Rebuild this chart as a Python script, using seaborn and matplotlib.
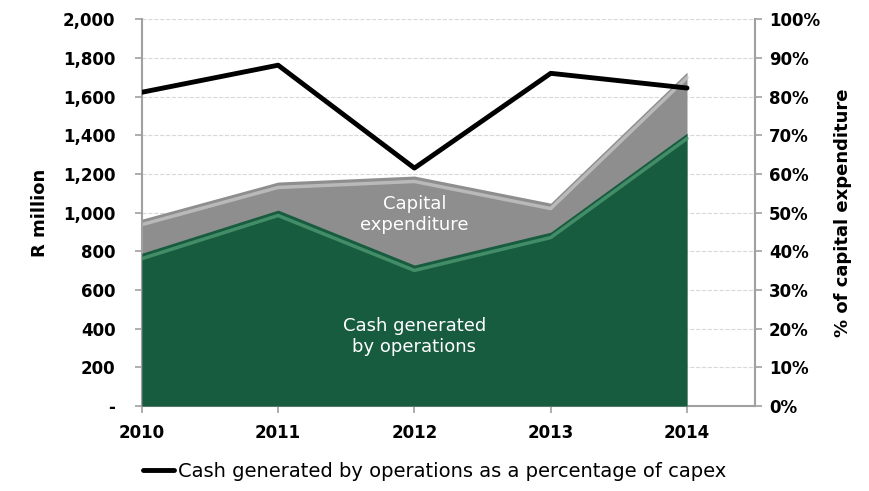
import matplotlib
matplotlib.use("Agg")
import matplotlib.pyplot as plt
import seaborn as sns
import pandas as pd
from matplotlib.ticker import FuncFormatter

years = ["2010", "2011", "2012", "2013", "2014"]
cash_ops = [790, 1013, 729, 899, 1411]
capex = [966, 1158, 1189, 1049, 1726]
pct_capex = [81.1, 88.1, 61.5, 86.0, 82.2]

df = pd.DataFrame({"year": years, "x": range(len(years)), "cash": cash_ops,
                   "capex": capex, "pct": pct_capex})

sns.set_style("white")
plt.rcParams["font.family"] = ["DejaVu Sans"]
plt.rcParams["text.color"] = "black"
plt.rcParams["axes.labelcolor"] = "black"
plt.rcParams["xtick.color"] = "black"
plt.rcParams["ytick.color"] = "black"

fig = plt.figure(figsize=(8.7, 4.91), dpi=100)
ax = fig.add_axes([0.163, 0.173, 0.705, 0.788])

green = "#185c40"
grey = "#8e8e8e"

# grey capex area behind, green cash area in front
ax.fill_between(df["x"], 0, df["capex"], color=grey, lw=0, zorder=2)
ax.plot(df["x"], df["capex"] - 28, color="#c4c4c4", lw=2.5, zorder=2.5, alpha=0.8)
ax.fill_between(df["x"], 0, df["cash"], color=green, lw=0, zorder=3)
ax.plot(df["x"], df["cash"] - 28, color="#4d9a72", lw=2.5, zorder=3.5, alpha=0.8)

ax.set_xlim(0, 4.5)
ax.set_ylim(0, 2000)
ax.set_yticks(range(0, 2001, 200))
ax.yaxis.set_major_formatter(FuncFormatter(lambda v, p: "-" if v == 0 else f"{int(v):,}"))
ax.set_xticks(df["x"])
ax.set_xticklabels(years)
ax.grid(axis="y", color="#d8d8d8", ls="--", lw=0.8, zorder=0)
ax.set_axisbelow(True)
ax.set_ylabel("R million", fontsize=13, fontweight="bold", labelpad=10)

for side in ["top", "right"]:
    ax.spines[side].set_visible(False)
for side in ["left", "bottom"]:
    ax.spines[side].set_color("#a0a0a0")
    ax.spines[side].set_linewidth(1.5)
ax.tick_params(axis="both", which="major", length=5, width=1.2, color="#a0a0a0",
               labelsize=12, left=True, bottom=True, direction="out")
ax.tick_params(axis="y", pad=14)
ax.tick_params(axis="x", pad=8)
for lbl in ax.get_xticklabels() + ax.get_yticklabels():
    lbl.set_fontweight("bold")

ax.text(2.0, 990, "Capital\nexpenditure", color="white", fontsize=13,
        ha="center", va="center", zorder=5, linespacing=1.2)
ax.text(2.0, 360, "Cash generated\nby operations", color="white", fontsize=13,
        ha="center", va="center", zorder=5, linespacing=1.2)

ax2 = ax.twinx()
sns.lineplot(data=df, x="x", y="pct", ax=ax2, color="black", lw=3.5,
             label="Cash generated by operations as a percentage of capex", legend=False)
ax2.set_ylim(0, 100)
ax2.set_yticks(range(0, 101, 10))
ax2.yaxis.set_major_formatter(FuncFormatter(lambda v, p: f"{int(v)}%"))
ax2.set_ylabel("% of capital expenditure", fontsize=13, fontweight="bold", labelpad=10)
ax2.set_xlabel("")
for side in ["top", "left", "bottom"]:
    ax2.spines[side].set_visible(False)
ax2.spines["right"].set_color("#a0a0a0")
ax2.spines["right"].set_linewidth(1.5)
ax2.tick_params(axis="y", length=5, width=1.2, color="#a0a0a0", labelsize=12, pad=5,
                right=True, direction="out")
for lbl in ax2.get_yticklabels():
    lbl.set_fontweight("bold")

h, l = ax2.get_legend_handles_labels()
fig.legend(h, l, loc="center", bbox_to_anchor=(0.5, 0.04), frameon=False,
           fontsize=14, handlelength=1.6, handletextpad=0.2)

fig.savefig("out.png", dpi=100)
